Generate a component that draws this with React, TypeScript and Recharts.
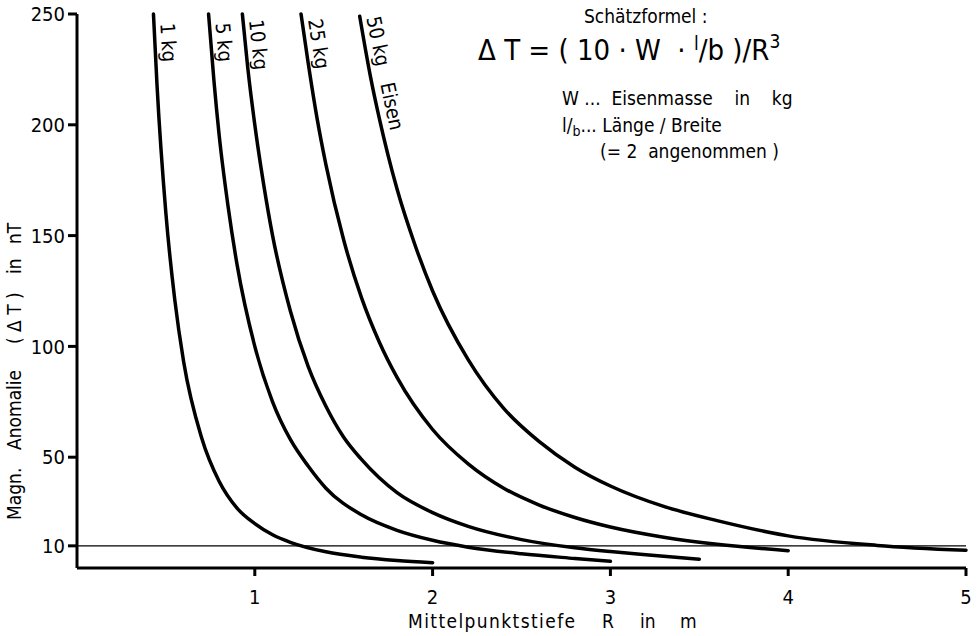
import React from 'react'
import { Line, LineChart, ReferenceLine, XAxis, YAxis } from 'recharts'

// depth R in m, anomaly dT in nT
const depth1 = [0.43, 0.45, 0.5, 0.55, 0.6, 0.7, 0.8, 0.9, 1.0, 1.1, 1.2, 1.4, 1.6, 1.8, 2.0]
const anom1 = [250, 218, 160, 121, 93, 59, 39, 27, 20, 15, 11.6, 7.3, 4.9, 3.4, 2.4]

const depth5 = [0.74, 0.77, 0.8, 0.85, 0.9, 1.0, 1.1, 1.2, 1.3, 1.4, 1.6, 1.8, 2.0, 2.2, 2.5, 2.8, 3.0]
const anom5 = [250, 220, 195, 163, 137, 100, 75, 58, 46, 36, 24, 17, 12.5, 9.4, 6.4, 4.3, 3.0]

const depth10 = [0.93, 0.96, 1.0, 1.05, 1.1, 1.2, 1.3, 1.4, 1.5, 1.6, 1.8, 2.0, 2.2, 2.5, 2.8, 3.0, 3.2, 3.5]
const anom10 = [250, 226, 200, 173, 150, 116, 91, 73, 59, 49, 34, 25, 18.8, 12.8, 9.1, 7.4, 6.0, 4.0]

const depth25 = [1.26, 1.3, 1.35, 1.4, 1.5, 1.6, 1.7, 1.8, 2.0, 2.2, 2.4, 2.6, 2.8, 3.0, 3.3, 3.6, 4.0]
const anom25 = [250, 228, 203, 182, 148, 122, 102, 86, 62.5, 47, 36, 28.4, 22.8, 18.5, 13.9, 10.7, 7.8]

const depth50 = [1.59, 1.65, 1.7, 1.8, 1.9, 2.0, 2.2, 2.4, 2.6, 2.8, 3.0, 3.3, 3.6, 4.0, 4.5, 5.0]
const anom50 = [249, 222, 203, 171, 146, 125, 94, 72, 57, 45.5, 37, 27.8, 21.4, 14.5, 10.2, 8.0]

const curveNames = ['1 kg', '5 kg', '10 kg', '25 kg', '50 kg   Eisen']
const xTicks = [1, 2, 3, 4, 5]
const yTicks = [10, 50, 100, 150, 200, 250]
const thresholdLine = 10

const FONT = '"DejaVu Sans Condensed", "DejaVu Sans", sans-serif'
const PRE = { whiteSpace: 'pre' as const }

const toRows = (rs: number[], ts: number[]) => rs.map((r, i) => ({ r, t: ts[i] }))

const series = [
  { name: curveNames[0], data: toRows(depth1, anom1), angle: 86, along: 10 },
  { name: curveNames[1], data: toRows(depth5, anom5), angle: 85, along: 10 },
  { name: curveNames[2], data: toRows(depth10, anom10), angle: 84, along: 7 },
  { name: curveNames[3], data: toRows(depth25, anom25), angle: 81, along: 7 },
  { name: curveNames[4], data: toRows(depth50, anom50), angle: 78, along: 3 },
]

// text along the top of each curve, reading downward
const curveLabel = (text: string, angle: number, along: number) => (props: any) => {
  if (props.index !== 0) return <g />
  return (
    <g transform={`translate(${props.x},${props.y}) rotate(${angle})`}>
      <text x={along} y={-6} fontSize={20} fontFamily={FONT} fill="#000" style={PRE}>
        {text}
      </text>
    </g>
  )
}

const App = () => {
  return (
    <div style={{ position: 'absolute', left: 0, top: 0, width: 979, height: 636, background: '#fff' }}>
      <LineChart width={979} height={636} margin={{ top: 14, right: 13, bottom: 28, left: 17 }}>
        <XAxis
          dataKey="r"
          type="number"
          domain={[0, 5]}
          ticks={xTicks}
          allowDuplicatedCategory={false}
          height={40}
          stroke="#000"
          strokeWidth={3}
          tickSize={8}
          tickMargin={14}
          tick={{ fill: '#000', fontSize: 20, fontFamily: FONT }}
        />
        <YAxis
          type="number"
          domain={[0, 250]}
          ticks={yTicks}
          width={60}
          stroke="#000"
          strokeWidth={3}
          tickSize={9}
          tickMargin={3}
          tick={{ fill: '#000', fontSize: 20, fontFamily: FONT }}
        />
        <ReferenceLine y={thresholdLine} stroke="#000" strokeWidth={1.4} />
        {series.map((s) => (
          <Line
            key={s.name}
            data={s.data}
            dataKey="t"
            type="monotone"
            stroke="#000"
            strokeWidth={3.5}
            strokeLinecap="round"
            dot={false}
            activeDot={false}
            isAnimationActive={false}
            label={curveLabel(s.name, s.angle, s.along)}
          />
        ))}
      </LineChart>

      <svg
        width={979}
        height={636}
        style={{ position: 'absolute', left: 0, top: 0, pointerEvents: 'none' }}
        fontFamily={FONT}
        fill="#000"
      >
        <g transform="translate(21,0) rotate(-90)" fontSize={19}>
          <text x={-520} y={0}>Magn.</text>
          <text x={-450} y={0}>Anomalie</text>
          <text x={-344} y={0} style={PRE}>( Δ T )</text>
          <text x={-274} y={0}>in</text>
          <text x={-244} y={0}>nT</text>
        </g>
        <g fontSize={19}>
          <text x={408} y={628} letterSpacing={1.4}>Mittelpunktstiefe</text>
          <text x={602} y={628}>R</text>
          <text x={640} y={628}>in</text>
          <text x={680} y={628}>m</text>
        </g>

        <text x={584} y={23} fontSize={19} style={PRE}>
          Schätzformel :
        </text>
        <text x={478} y={60} fontSize={29} style={PRE}>
          {'Δ T = ( 10 · W  · '}
          <tspan fontSize={19} dy={-10}>l</tspan>
          <tspan dy={10}>/b )/R</tspan>
          <tspan fontSize={19} dy={-12}>3</tspan>
        </text>
        <text x={562} y={105} fontSize={19} style={PRE}>
          {'W ...  Eisenmasse    in    kg'}
        </text>
        <text x={562} y={132} fontSize={19} style={PRE}>
          l/<tspan fontSize={14} dy={4}>b</tspan>
          <tspan dy={-4}>{'... Länge / Breite'}</tspan>
        </text>
        <text x={600} y={158} fontSize={19} style={PRE}>
          {'(= 2  angenommen )'}
        </text>
      </svg>
    </div>
  )
}

export default App
